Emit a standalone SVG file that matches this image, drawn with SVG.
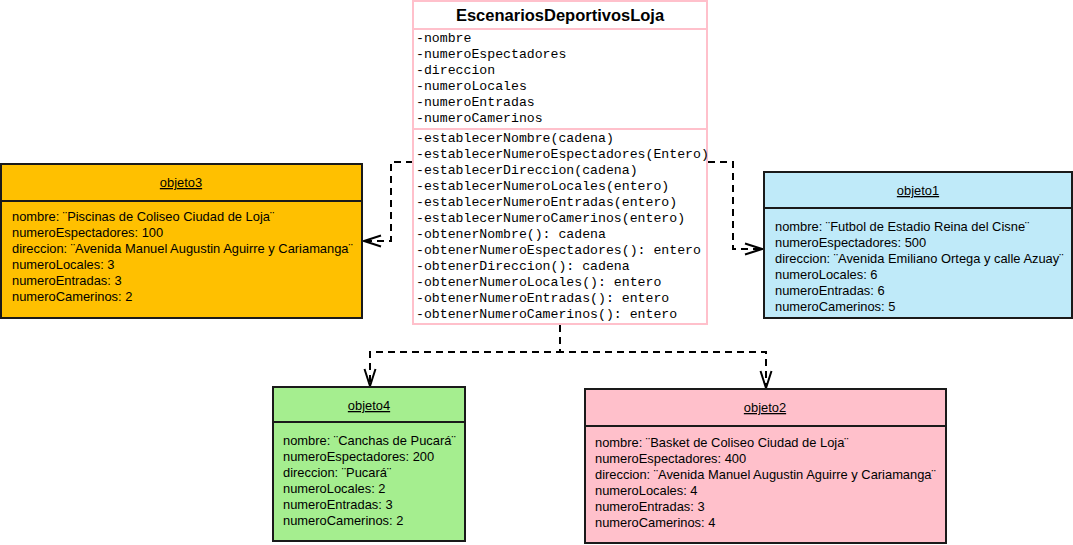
<svg xmlns="http://www.w3.org/2000/svg" width="1073" height="545" viewBox="0 0 1073 545">
<style>
.cls{fill:#ffffff;stroke:#ffc0cb;stroke-width:2}
.sep{stroke:#ffc0cb;stroke-width:2}
.obj{stroke:#1a1a1a;stroke-width:2}
.osep{stroke:#1a1a1a;stroke-width:2}
.title{font-family:"Liberation Sans",Arial,sans-serif;font-weight:bold;font-size:16.5px;fill:#000;text-anchor:middle}
.mono{font-family:"Liberation Mono","Courier New",monospace;font-size:13.2px;fill:#000}
.otitle{font-family:"Liberation Sans",Arial,sans-serif;font-size:12.9px;fill:#000;text-anchor:middle;text-decoration:underline}
.otext{font-family:"Liberation Sans",Arial,sans-serif;font-size:12.9px;fill:#000}
.conn{fill:none;stroke:#000;stroke-width:2;stroke-dasharray:7 5}
</style>
<defs>
<marker id="arrow" markerUnits="userSpaceOnUse" markerWidth="24" markerHeight="16" viewBox="-20 -8 24 16" refX="0" refY="0" orient="auto">
<path d="M-17,-5.5 L0,0 L-17,5.5" fill="none" stroke="#000" stroke-width="2" stroke-dasharray="none"/>
</marker>
</defs>
<g id="connectors">
<path class="conn" d="M413,162 H391 V241 H364" marker-end="url(#arrow)"/>
<path class="conn" d="M708,162 H733 V249 H762" marker-end="url(#arrow)"/>
<path class="conn" d="M560,325 V352 H370 V386" marker-end="url(#arrow)"/>
<path class="conn" d="M560,325 V352 H766 V388" marker-end="url(#arrow)"/>
</g>
<g id="EscenariosDeportivosLoja">
<rect class="cls" x="413" y="1" width="294" height="323"/>
<line class="sep" x1="413" y1="29" x2="707" y2="29"/>
<line class="sep" x1="413" y1="129" x2="707" y2="129"/>
<text class="title" x="560" y="21">EscenariosDeportivosLoja</text>
<text class="mono" x="416" y="42">-nombre</text>
<text class="mono" x="416" y="58">-numeroEspectadores</text>
<text class="mono" x="416" y="74">-direccion</text>
<text class="mono" x="416" y="90">-numeroLocales</text>
<text class="mono" x="416" y="106">-numeroEntradas</text>
<text class="mono" x="416" y="122">-numeroCamerinos</text>
<text class="mono" x="416" y="142">-establecerNombre(cadena)</text>
<text class="mono" x="416" y="158">-establecerNumeroEspectadores(Entero)</text>
<text class="mono" x="416" y="174">-establecerDireccion(cadena)</text>
<text class="mono" x="416" y="190">-establecerNumeroLocales(entero)</text>
<text class="mono" x="416" y="206">-establecerNumeroEntradas(entero)</text>
<text class="mono" x="416" y="222">-establecerNumeroCamerinos(entero)</text>
<text class="mono" x="416" y="238">-obtenerNombre(): cadena</text>
<text class="mono" x="416" y="254">-obtenerNumeroEspectadores(): entero</text>
<text class="mono" x="416" y="270">-obtenerDireccion(): cadena</text>
<text class="mono" x="416" y="286">-obtenerNumeroLocales(): entero</text>
<text class="mono" x="416" y="302">-obtenerNumeroEntradas(): entero</text>
<text class="mono" x="416" y="318">-obtenerNumeroCamerinos(): entero</text>
</g>
<g id="objeto3">
<rect class="obj" x="1" y="164" width="361" height="154" fill="#ffc000"/>
<line class="osep" x1="1" y1="201" x2="362" y2="201"/>
<text class="otitle" x="181" y="187">objeto3</text>
<text class="otext" x="12" y="221">nombre: ¨Piscinas de Coliseo Ciudad de Loja¨</text>
<text class="otext" x="12" y="237">numeroEspectadores: 100</text>
<text class="otext" x="12" y="253">direccion: ¨Avenida Manuel Augustin Aguirre y Cariamanga¨</text>
<text class="otext" x="12" y="269">numeroLocales: 3</text>
<text class="otext" x="12" y="285">numeroEntradas: 3</text>
<text class="otext" x="12" y="301">numeroCamerinos: 2</text>
</g>
<g id="objeto1">
<rect class="obj" x="764" y="172" width="308" height="146" fill="#bfeaf9"/>
<line class="osep" x1="764" y1="208" x2="1072" y2="208"/>
<text class="otitle" x="918" y="195">objeto1</text>
<text class="otext" x="775" y="231">nombre: ¨Futbol de Estadio Reina del Cisne¨</text>
<text class="otext" x="775" y="247">numeroEspectadores: 500</text>
<text class="otext" x="775" y="263">direccion: ¨Avenida Emiliano Ortega y calle Azuay¨</text>
<text class="otext" x="775" y="279">numeroLocales: 6</text>
<text class="otext" x="775" y="295">numeroEntradas: 6</text>
<text class="otext" x="775" y="311">numeroCamerinos: 5</text>
</g>
<g id="objeto4">
<rect class="obj" x="273" y="387" width="192" height="154" fill="#a5ee8f"/>
<line class="osep" x1="273" y1="422" x2="465" y2="422"/>
<text class="otitle" x="369" y="410">objeto4</text>
<text class="otext" x="283" y="445">nombre: ¨Canchas de Pucará¨</text>
<text class="otext" x="283" y="461">numeroEspectadores: 200</text>
<text class="otext" x="283" y="477">direccion: ¨Pucará¨</text>
<text class="otext" x="283" y="493">numeroLocales: 2</text>
<text class="otext" x="283" y="509">numeroEntradas: 3</text>
<text class="otext" x="283" y="525">numeroCamerinos: 2</text>
</g>
<g id="objeto2">
<rect class="obj" x="585" y="389" width="361" height="154" fill="#ffc0cb"/>
<line class="osep" x1="585" y1="426" x2="946" y2="426"/>
<text class="otitle" x="765" y="412">objeto2</text>
<text class="otext" x="595" y="447">nombre: ¨Basket de Coliseo Ciudad de Loja¨</text>
<text class="otext" x="595" y="463">numeroEspectadores: 400</text>
<text class="otext" x="595" y="479">direccion: ¨Avenida Manuel Augustin Aguirre y Cariamanga¨</text>
<text class="otext" x="595" y="495">numeroLocales: 4</text>
<text class="otext" x="595" y="511">numeroEntradas: 3</text>
<text class="otext" x="595" y="527">numeroCamerinos: 4</text>
</g>
</svg>
